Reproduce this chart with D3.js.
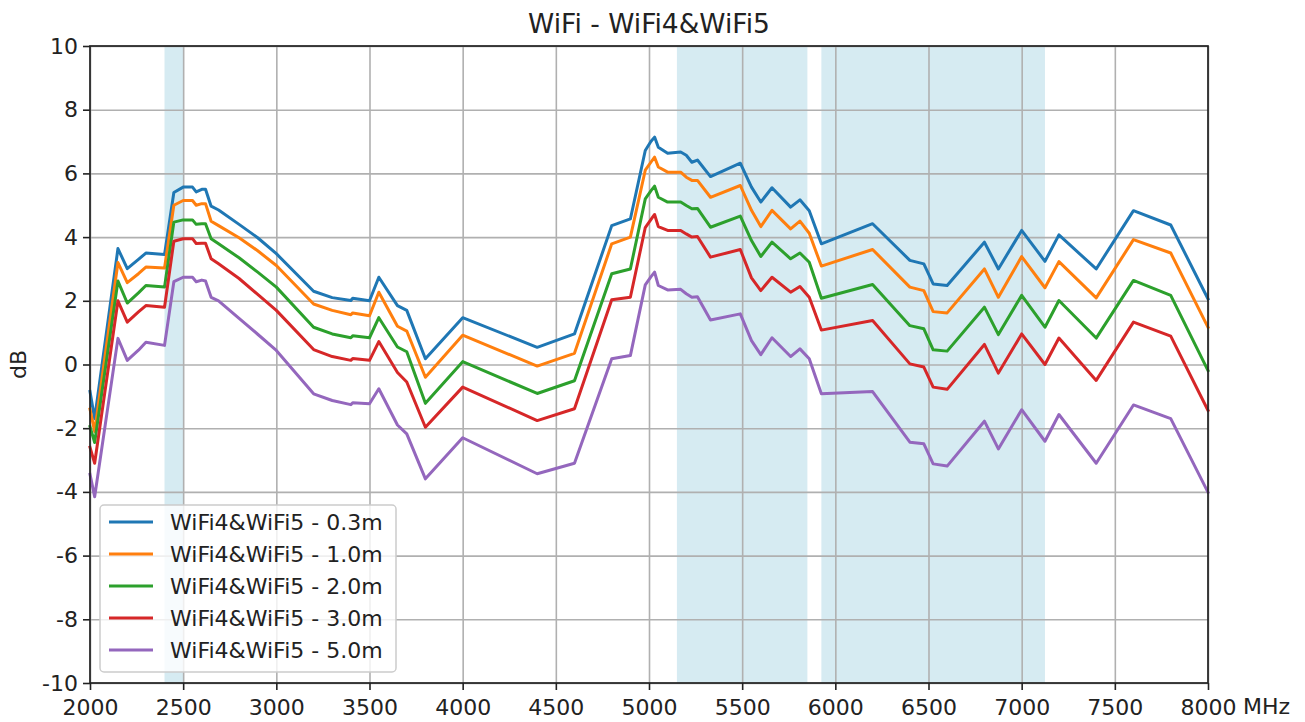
<!DOCTYPE html>
<html>
<head>
<meta charset="utf-8">
<script src="https://cdn.jsdelivr.net/npm/d3@7"></script>
<style>
    body { margin: 0; background: #fff; }
    svg text { font-family: "DejaVu Sans", sans-serif; fill: #222; }
</style>
</head>
<body>
<div id="chart"></div>
<script>
// Measurement frequencies (MHz)
const freqs = [2000, 2025, 2150, 2200, 2260, 2300, 2400, 2450, 2500, 2550, 2570, 2600, 2620, 2650, 2690,
    2800, 2900, 3000, 3200, 3300, 3400, 3410, 3500, 3550, 3650, 3700, 3800, 4000, 4400, 4600,
    4800, 4900, 4980, 5010, 5030, 5050, 5100, 5170, 5200, 5230, 5260, 5330, 5490, 5550, 5600,
    5660, 5760, 5810, 5860, 5925, 6200, 6400, 6475, 6525, 6600, 6800, 6875, 7000, 7125, 7200,
    7400, 7600, 7800, 8000];

// dB per distance
const wifi03 = [-0.85, -1.7, 3.64, 3.01, 3.3, 3.5, 3.45, 5.4, 5.57, 5.57, 5.42, 5.5, 5.5, 4.97, 4.85,
    4.4, 3.98, 3.48, 2.3, 2.1, 2.01, 2.08, 2.0, 2.74, 1.85, 1.7, 0.18, 1.47, 0.54, 0.96,
    4.36, 4.57, 6.72, 7.0, 7.14, 6.82, 6.63, 6.67, 6.57, 6.35, 6.42, 5.9, 6.32, 5.57, 5.1,
    5.55, 4.94, 5.17, 4.83, 3.79, 4.42, 3.27, 3.16, 2.53, 2.48, 3.84, 3.0, 4.21, 3.24, 4.07,
    3.0, 4.83, 4.38, 2.06];
const wifi10 = [-1.4, -2.1, 3.2, 2.57, 2.85, 3.06, 3.03, 5.0, 5.15, 5.15, 5.0, 5.05, 5.05, 4.5, 4.36,
    3.98, 3.57, 3.11, 1.9, 1.7, 1.56, 1.62, 1.53, 2.27, 1.2, 1.05, -0.4, 0.92, -0.05, 0.35,
    3.79, 4.0, 6.1, 6.35, 6.51, 6.2, 6.04, 6.04, 5.88, 5.78, 5.78, 5.25, 5.62, 4.84, 4.33,
    4.84, 4.26, 4.5, 4.12, 3.09, 3.61, 2.43, 2.32, 1.66, 1.62, 3.0, 2.11, 3.39, 2.41, 3.23,
    2.09, 3.92, 3.5, 1.17];
const wifi20 = [-1.95, -2.45, 2.62, 1.93, 2.25, 2.48, 2.43, 4.47, 4.54, 4.54, 4.4, 4.42, 4.42, 3.95, 3.79,
    3.35, 2.9, 2.43, 1.17, 0.96, 0.84, 0.9, 0.84, 1.47, 0.55, 0.4, -1.22, 0.09, -0.91, -0.51,
    2.85, 3.0, 5.2, 5.45, 5.6, 5.25, 5.1, 5.1, 4.99, 4.89, 4.9, 4.31, 4.66, 3.89, 3.39,
    3.84, 3.32, 3.5, 3.21, 2.08, 2.51, 1.22, 1.12, 0.46, 0.42, 1.8, 0.94, 2.17, 1.17, 2.01,
    0.83, 2.64, 2.17, -0.19];
const wifi30 = [-2.6, -3.1, 2.0, 1.33, 1.65, 1.85, 1.8, 3.87, 3.95, 3.95, 3.8, 3.81, 3.81, 3.32, 3.16,
    2.7, 2.2, 1.7, 0.47, 0.25, 0.13, 0.19, 0.13, 0.72, -0.25, -0.55, -1.97, -0.71, -1.76, -1.39,
    2.03, 2.11, 4.3, 4.55, 4.71, 4.33, 4.21, 4.21, 4.1, 4.0, 4.02, 3.37, 3.61, 2.72, 2.32,
    2.74, 2.27, 2.45, 2.11, 1.08, 1.38, 0.02, -0.08, -0.71, -0.78, 0.63, -0.27, 0.96, 0.0, 0.83,
    -0.5, 1.33, 0.89, -1.44];
const wifi50 = [-3.45, -4.15, 0.82, 0.13, 0.45, 0.7, 0.6, 2.6, 2.74, 2.74, 2.6, 2.65, 2.62, 2.11, 2.0,
    1.45, 0.95, 0.44, -0.92, -1.13, -1.26, -1.2, -1.23, -0.76, -1.9, -2.18, -3.59, -2.3, -3.43, -3.1,
    0.18, 0.28, 2.5, 2.75, 2.9, 2.48, 2.34, 2.36, 2.22, 2.11, 2.13, 1.4, 1.59, 0.75, 0.31,
    0.84, 0.25, 0.49, 0.18, -0.92, -0.85, -2.44, -2.49, -3.12, -3.19, -1.78, -2.65, -1.42, -2.41, -1.57,
    -3.1, -1.27, -1.7, -4.01];

const seriesNames = ['WiFi4&WiFi5 - 0.3m', 'WiFi4&WiFi5 - 1.0m', 'WiFi4&WiFi5 - 2.0m',
    'WiFi4&WiFi5 - 3.0m', 'WiFi4&WiFi5 - 5.0m'];
const seriesValues = [wifi03, wifi10, wifi20, wifi30, wifi50];
const seriesColors = ['#1f77b4', '#ff7f0e', '#2ca02c', '#d62728', '#9467bd'];

// WiFi bands (MHz)
const bandStarts = [2400, 5150, 5925];
const bandEnds = [2500, 5850, 7125];

const xTicks = [2000, 2500, 3000, 3500, 4000, 4500, 5000, 5500, 6000, 6500, 7000, 7500, 8000];
const yTicks = [-10, -8, -6, -4, -2, 0, 2, 4, 6, 8, 10];

document.addEventListener('DOMContentLoaded', function() {
    const totalWidth = 1305, totalHeight = 722;
    const margin = { top: 46, right: 97, bottom: 39, left: 90 };
    const width = totalWidth - margin.left - margin.right;
    const height = totalHeight - margin.top - margin.bottom;
    const fontSize = '22px';

    const svg = d3.select('#chart')
        .append('svg')
        .attr('width', totalWidth)
        .attr('height', totalHeight);

    const g = svg.append('g')
        .attr('transform', `translate(${margin.left},${margin.top})`);

    const x = d3.scaleLinear().domain([2000, 8000]).range([0, width]);
    const y = d3.scaleLinear().domain([-10, 10]).range([height, 0]);

    // shaded bands
    g.selectAll('.band')
        .data(bandStarts.map((s, i) => ({ s, e: bandEnds[i] })))
        .enter()
        .append('rect')
        .attr('class', 'band')
        .attr('x', d => x(d.s))
        .attr('y', 0)
        .attr('width', d => x(d.e) - x(d.s))
        .attr('height', height)
        .attr('fill', '#add8e6')
        .attr('fill-opacity', 0.5);

    // grid
    g.append('g')
        .call(d3.axisBottom(x).tickValues(xTicks).tickSize(height).tickFormat(''))
        .call(a => a.select('.domain').remove())
        .selectAll('line')
        .attr('stroke', '#b0b0b0')
        .attr('stroke-width', 1.6);

    g.append('g')
        .call(d3.axisLeft(y).tickValues(yTicks).tickSize(-width).tickFormat(''))
        .call(a => a.select('.domain').remove())
        .selectAll('line')
        .attr('stroke', '#b0b0b0')
        .attr('stroke-width', 1.6);

    // lines
    const line = d3.line()
        .x((d, i) => x(freqs[i]))
        .y(d => y(d));

    seriesValues.forEach((vals, i) => {
        g.append('path')
            .datum(vals)
            .attr('fill', 'none')
            .attr('stroke', seriesColors[i])
            .attr('stroke-width', 3)
            .attr('stroke-linejoin', 'round')
            .attr('stroke-linecap', 'square')
            .attr('d', line);
    });

    // axes
    const xAxis = g.append('g')
        .attr('transform', `translate(0,${height})`)
        .call(d3.axisBottom(x).tickValues(xTicks).tickSize(7).tickPadding(9).tickFormat(d3.format('d')));
    xAxis.selectAll('text').style('font-size', fontSize).attr('fill', '#222');

    const yAxis = g.append('g')
        .call(d3.axisLeft(y).tickValues(yTicks).tickSize(7).tickPadding(5).tickFormat(d => d));
    yAxis.selectAll('text').style('font-size', fontSize).attr('fill', '#222');

    [xAxis, yAxis].forEach(a => {
        a.select('.domain').remove();
        a.selectAll('line').attr('stroke', '#222').attr('stroke-width', 1.6);
    });

    // frame
    g.append('rect')
        .attr('width', width)
        .attr('height', height)
        .attr('fill', 'none')
        .attr('stroke', '#222')
        .attr('stroke-width', 1.7);

    // title and labels
    svg.append('text')
        .attr('x', margin.left + width / 2)
        .attr('y', 33)
        .attr('text-anchor', 'middle')
        .style('font-size', '26.5px')
        .text('WiFi - WiFi4&WiFi5');

    svg.append('text')
        .attr('x', 1243)
        .attr('y', 714)
        .style('font-size', fontSize)
        .text('MHz');

    svg.append('text')
        .attr('transform', `translate(26,${margin.top + height / 2}) rotate(-90)`)
        .attr('text-anchor', 'middle')
        .style('font-size', fontSize)
        .text('dB');

    // legend
    const legend = g.append('g')
        .attr('transform', `translate(${100 - margin.left},${505 - margin.top})`);

    legend.append('rect')
        .attr('width', 296)
        .attr('height', 167)
        .attr('rx', 4)
        .attr('fill', '#fff')
        .attr('fill-opacity', 0.8)
        .attr('stroke', '#cccccc')
        .attr('stroke-width', 1.5);

    seriesNames.forEach((name, i) => {
        const row = legend.append('g').attr('transform', `translate(0,${17 + i * 32})`);
        row.append('line')
            .attr('x1', 9).attr('x2', 53)
            .attr('stroke', seriesColors[i])
            .attr('stroke-width', 3);
        row.append('text')
            .attr('x', 70)
            .attr('dy', '0.36em')
            .style('font-size', fontSize)
            .text(name);
    });
});
</script>
</body>
</html>
